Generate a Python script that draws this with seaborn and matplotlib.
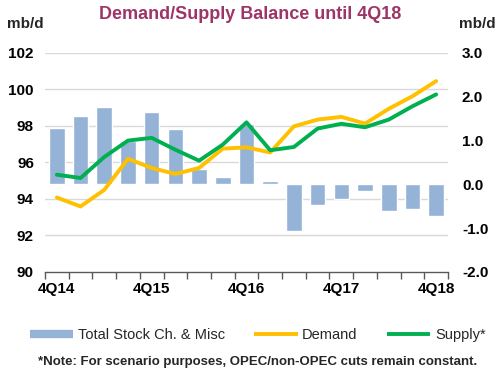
import numpy as np
import pandas as pd
import matplotlib
matplotlib.use("Agg")
import matplotlib.pyplot as plt
import seaborn as sns
from matplotlib.lines import Line2D

sns.set_theme(style="white")
plt.rcParams['font.family'] = ['Liberation Sans', 'DejaVu Sans']

quarters = ["4Q14", "1Q15", "2Q15", "3Q15", "4Q15", "1Q16", "2Q16", "3Q16", "4Q16",
            "1Q17", "2Q17", "3Q17", "4Q17", "1Q18", "2Q18", "3Q18", "4Q18"]
stock_change = [1.28, 1.55, 1.77, 1.0, 1.66, 1.26, 0.34, 0.18, 1.39,
                0.07, -1.07, -0.47, -0.34, -0.14, -0.61, -0.57, -0.72]
demand = [94.08, 93.59, 94.5, 96.2, 95.7, 95.37, 95.7, 96.76, 96.83,
          96.55, 97.98, 98.35, 98.5, 98.13, 98.94, 99.63, 100.46]
supply = [95.33, 95.15, 96.3, 97.2, 97.35, 96.7, 96.1, 96.98, 98.2,
          96.67, 96.85, 97.86, 98.12, 97.93, 98.35, 99.08, 99.73]
shown_labels = ["4Q14", "4Q15", "4Q16", "4Q17", "4Q18"]
left_ticks = [90, 92, 94, 96, 98, 100, 102]
right_ticks = [-2.0, -1.0, 0.0, 1.0, 2.0, 3.0]

BAR = "#95B3D7"
DEM = "#FFC000"
SUP = "#00B050"
TITLE = "#9E3568"

df = pd.DataFrame({"q": quarters, "pos": np.arange(len(quarters)),
                   "stock": stock_change, "demand": demand, "supply": supply})

fig = plt.figure(figsize=(5, 3.75), dpi=100)
ax_b = fig.add_axes([0.09, 0.2747, 0.806, 0.584])
ax_l = ax_b.twinx()

# bars (right axis)
sns.barplot(data=df, x="q", y="stock", order=quarters, color=BAR, width=0.66,
            saturation=1, ax=ax_b, zorder=2)
ax_b.set_ylim(-2, 3)

# gridlines aligned with left ticks, drawn behind bars
for t in left_ticks[1:]:
    ax_b.axhline(-2 + (t - 90) * 5 / 12, color="#D9D9D9", lw=1.0, zorder=0)

# lines (left axis)
sns.lineplot(data=df, x="pos", y="demand", color=DEM, lw=2.8, ax=ax_l, zorder=3)
sns.lineplot(data=df, x="pos", y="supply", color=SUP, lw=2.8, ax=ax_l, zorder=4)
ax_l.set_ylim(90, 102)
ax_l.patch.set_visible(False)

# move axes: lines -> left, bars -> right
ax_l.yaxis.tick_left()
ax_l.yaxis.set_label_position("left")
ax_b.yaxis.tick_right()
ax_b.yaxis.set_label_position("right")

ax_l.set_yticks(left_ticks)
ax_l.set_yticklabels([str(t) for t in left_ticks], fontsize=11, fontweight="bold")
ax_b.set_yticks(right_ticks)
ax_b.set_yticklabels([f"{t:.1f}" for t in right_ticks], fontsize=11, fontweight="bold")
ax_l.tick_params(axis="y", length=0, pad=8, colors="#000000")
ax_b.tick_params(axis="y", length=0, pad=10, colors="#000000")

# x axis (shared)
ax_b.set_xlim(-0.5, len(quarters) - 0.5)
ax_b.set_xticks([quarters.index(l) for l in shown_labels])
ax_b.set_xticklabels(shown_labels, fontsize=11, fontweight="bold")
ax_b.set_xticks(np.arange(-0.5, len(quarters), 1.0), minor=True)
ax_b.tick_params(axis="x", which="major", length=0, pad=7, colors="#000000",
                 bottom=True, labelbottom=True)
ax_b.tick_params(axis="x", which="minor", length=5, width=1, color="#595959", bottom=True)
ax_l.tick_params(axis="x", which="both", bottom=False, top=False,
                 labelbottom=False, labeltop=False)

for a in (ax_b, ax_l):
    a.set_xlabel("")
    a.set_ylabel("")
    for s in ("top", "left", "right"):
        a.spines[s].set_visible(False)
ax_l.spines["bottom"].set_visible(False)
ax_b.spines["bottom"].set_color("#595959")
ax_b.spines["bottom"].set_linewidth(1.0)

# texts
fig.text(0.5, 0.962, "Demand/Supply Balance until 4Q18", ha="center", va="center",
         fontsize=13, fontweight="bold", color=TITLE)
fig.text(0.05, 0.935, "mb/d", ha="center", va="center", fontsize=11, fontweight="bold")
fig.text(0.955, 0.935, "mb/d", ha="center", va="center", fontsize=11, fontweight="bold")

handles = [Line2D([0], [0], color=BAR, lw=6, solid_capstyle="butt"),
           Line2D([0], [0], color=DEM, lw=2.8, solid_capstyle="butt"),
           Line2D([0], [0], color=SUP, lw=2.8, solid_capstyle="butt")]
labels = ["Total Stock Ch. & Misc", "Demand", "Supply*"]
fig.legend(handles, labels, loc="center", bbox_to_anchor=(0.515, 0.107), ncol=3,
           frameon=False, fontsize=10.5, handlelength=3.0, handletextpad=0.3,
           columnspacing=2.0)
fig.text(0.515, 0.035, "*Note: For scenario purposes, OPEC/non-OPEC cuts remain constant.",
         ha="center", va="center", fontsize=9.5, fontweight="bold")

fig.savefig("out.png", dpi=100)
